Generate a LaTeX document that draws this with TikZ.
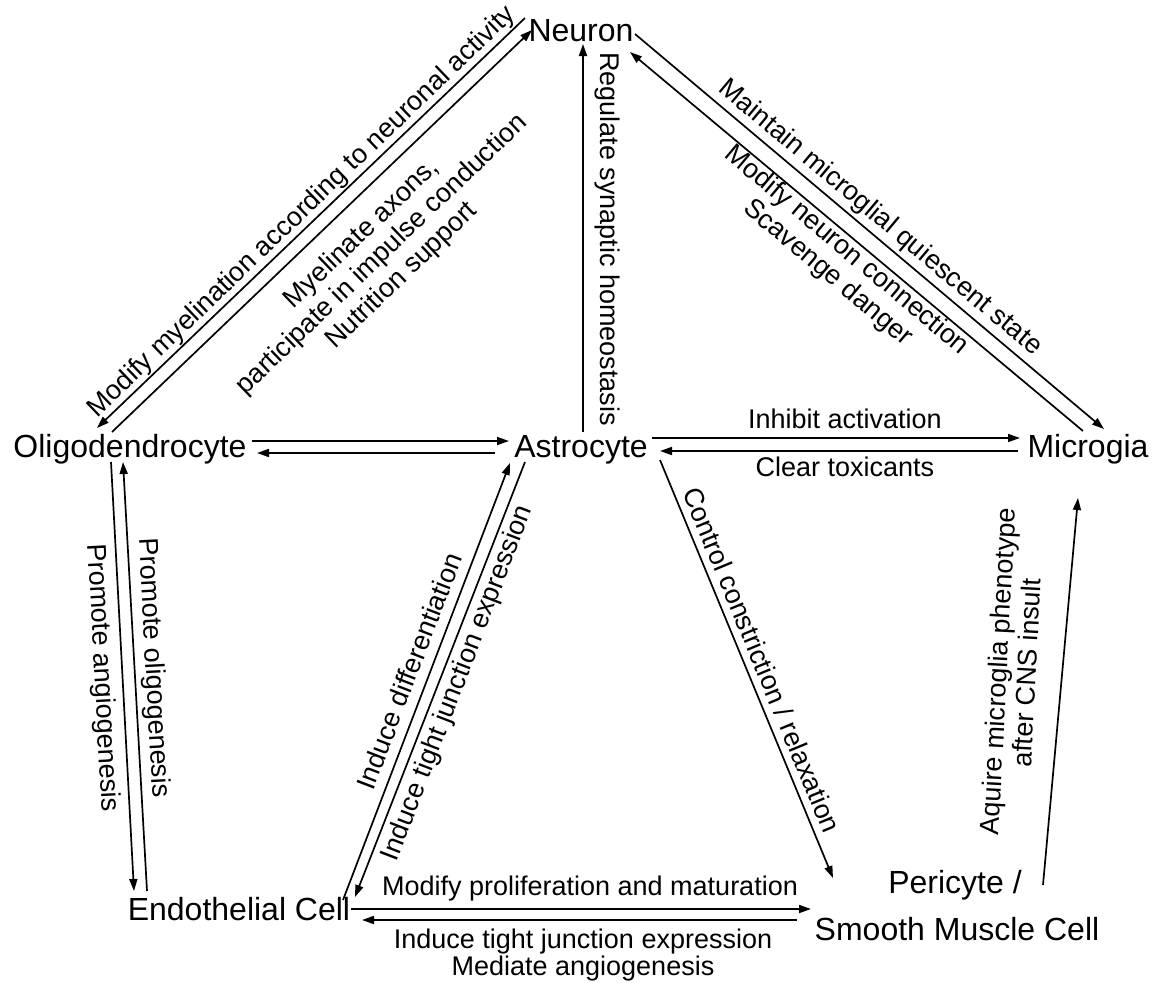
\documentclass[tikz,border=0pt]{standalone}
\usepackage{fontspec}
\setmainfont{Liberation Sans}
\usetikzlibrary{arrows.meta}
\begin{document}
\begin{tikzpicture}[x=1pt,y=-1pt,
  cell/.style={font=\fontsize{32}{38}\selectfont, inner sep=0pt, anchor=base},
  lbl/.style={font=\fontsize{27}{29}\selectfont, inner sep=0pt, align=center},
  conn/.style={line width=1.7pt, -{Triangle[length=12pt,width=8pt]}}]
\useasboundingbox (0,0) rectangle (1163,983);
\fill[white] (0,0) rectangle (1163,983);
% cells
\node[cell] (neuron) at (581,41) {Neuron};
\node[cell] (olig) at (130,457) {Oligodendrocyte};
\node[cell] (astro) at (581,457) {Astrocyte};
\node[cell] (micro) at (1088,457) {Microgia};
\node[cell] (endo) at (239,920) {Endothelial Cell};
\node[cell] (peri) at (955,893) {Pericyte /};
\node[cell] (smc) at (957,940) {Smooth Muscle Cell};
% connectors
\draw[conn] ([shift={(122,-16)}]olig.base) -- ([shift={(-72,-16)}]astro.base);
\draw[conn] ([shift={(-86,-4)}]astro.base) -- ([shift={(127,-4)}]olig.base);
\draw[conn] ([shift={(71,-19)}]astro.base) -- ([shift={(-68,-19)}]micro.base);
\draw[conn] ([shift={(-70,-6)}]micro.base) -- ([shift={(79,-6)}]astro.base);
\draw[conn] ([shift={(2,-25)}]astro.base) -- ([shift={(2,3)}]neuron.base);
\draw[conn] ([shift={(-56,-23)}]neuron.base) -- ([shift={(-33,-29)}]olig.base);
\draw[conn] ([shift={(-18,-25)}]olig.base) -- ([shift={(-49,-11)}]neuron.base);
\draw[conn] ([shift={(54,-7)}]neuron.base) -- ([shift={(16,-28)}]micro.base);
\draw[conn] ([shift={(-5,-26)}]micro.base) -- ([shift={(49,11)}]neuron.base);
\draw[conn] ([shift={(-19,5)}]olig.base) -- ([shift={(-105,-29)}]endo.base);
\draw[conn] ([shift={(-92,-29)}]endo.base) -- ([shift={(-7,5)}]olig.base);
\draw[conn] ([shift={(104,-20)}]endo.base) -- ([shift={(-71,6)}]astro.base);
\draw[conn] ([shift={(-56,5)}]astro.base) -- ([shift={(116,-23)}]endo.base);
\draw[conn] ([shift={(79,3)}]astro.base) -- ([shift={(-124,-62)}]smc.base);
\draw[conn] ([shift={(88,-8)}]peri.base) -- ([shift={(-10,41)}]micro.base);
\draw[conn] ([shift={(112,-11)}]endo.base) -- ([shift={(-146,-31)}]smc.base);
\draw[conn] ([shift={(-160,-20)}]smc.base) -- ([shift={(123,0)}]endo.base);
% labels
\node[lbl, anchor=base] (l1) at (845,428) {Inhibit activation};
\node[lbl, anchor=base] (l2) at (845,476) {Clear toxicants};
\node[lbl, anchor=base] (l3) at (590,895) {Modify proliferation and maturation};
\node[lbl, anchor=base, font=\fontsize{27}{27}\selectfont] (l4) at (583,975) {Induce tight junction expression\\Mediate angiogenesis};
\node[lbl, rotate=43.8] (l5) at (302,212) {Modify myelination according to neuronal activity};
\node[lbl, rotate=43.8] (l6) at (382,255) {Myelinate axons,\\participate in impulse conduction\\Nutrition support};
\node[lbl, rotate=-90] (l7) at (607,239) {Regulate synaptic homeostasis};
\node[lbl, rotate=-40] (l8) at (880,218) {Maintain microglial quiescent state};
\node[lbl, rotate=-40] (l9) at (837,262) {Modify neuron connection\\Scavenge danger};
\node[lbl, rotate=-87] (l10) at (102,678) {Promote angiogenesis};
\node[lbl, rotate=-87] (l11) at (153,668) {Promote oligogenesis};
\node[lbl, rotate=69] (l12) at (409,671) {Induce differentiation};
\node[lbl, rotate=69] (l13) at (458,683) {Induce tight junction expression};
\node[lbl, rotate=-67.5] (l14) at (762,660) {Control constriction / relaxation};
\node[lbl, rotate=87] (l15) at (1012,672) {Aquire microglia phenotype\\after CNS insult};
\end{tikzpicture}
\end{document}
